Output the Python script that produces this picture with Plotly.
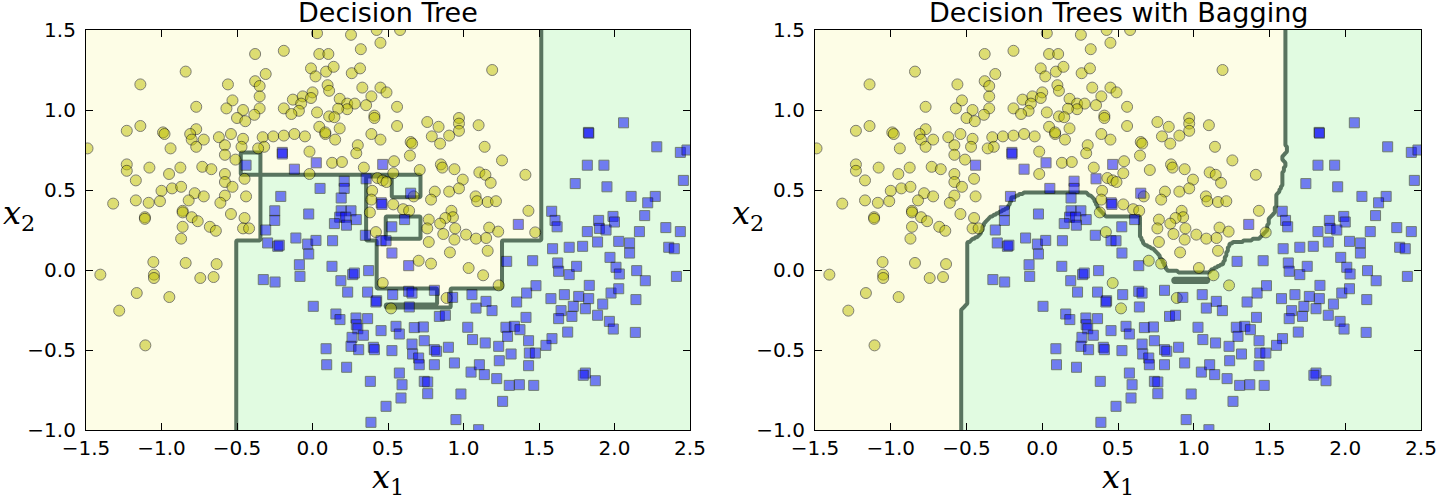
import numpy as np
import plotly.graph_objects as go

# ---------------- data: class 0 (yellow circles) ----------------
yellow_x = [-0.38,-0.19,-0.84,-1.14,-0.56,-0.31,-0.38,-0.35,-0.35,-0.53,-0.77,-0.57,-0.46,-0.35,-0.385,-0.5,-0.445,-0.19,
            -1.23,-1.14,-0.99,-0.98,-0.77,-0.81,-0.80,-0.77,-0.72,-0.62,-0.54,-0.46,-0.33,-0.26,-0.19,-0.32,-0.36,-0.47,-0.58,
            -1.49,-0.94,-0.58,-0.51,-1.23,-1.23,-1.08,-0.95,-0.875,-0.73,-0.67,-0.58,-1.17,-0.45,-0.58,-0.53,-1.0,-0.93,-0.87,
            -0.78,-0.72,-0.82,-0.58,-0.61,-0.44,-1.32,-1.17,-1.085,-1.01,-1.11,-1.11,-0.86,-0.86,-0.80,-0.76,-0.68,-0.64,-0.54,
            -0.45,-0.46,-0.42,-0.86,
            -0.87,-1.054,-0.84,-0.635,-1.405,-1.05,-1.05,-0.743,-0.655,-1.164,-0.948,-1.28,-1.107,
            0.03,0.255,0.425,0.58,0.45,0.32,0.045,0.105,-0.01,0.02,0.09,0.14,0.26,0.315,0.10,0.11,0.0,0.33,0.45,0.49,0.39,
            -0.13,-0.065,-0.075,-0.01,0.18,0.23,0.28,0.355,0.23,0.17,-0.09,-0.14,0.03,0.11,0.145,0.41,0.41,0.56,0.56,0.045,
            0.18,0.085,0.085,-0.12,-0.05,0.15,0.39,0.45,0.76,0.835,0.97,0.97,0.97,0.905,0.79,0.845,1.10,1.14,0.65,0.66,0.3,
            0.29,-0.02,0.645,0.54,0.13,0.195,0.34,0.71,0.85,0.86,0.94,1.105,1.145,0.995,0.905,0.97,0.81,0.785,1.08,1.09,1.16,
            -0.02,0.43,0.465,0.49,0.535,0.395,0.39,0.38,0.535,0.6,0.64,0.67,0.92,0.93,0.88,0.77,0.76,0.845,0.945,
            1.19,1.255,1.18,1.41,1.215,1.43,1.17,1.23,1.475,
            0.42,0.77,0.866,0.94,1.017,1.083,1.15,1.16,0.91,0.703,0.785,1.034,1.13,0.465,0.888,0.52,1.233]
yellow_y = [1.35,1.37,1.24,1.16,1.16,1.225,1.18,1.15,1.085,1.06,1.02,1.01,1.0,1.01,0.97,0.95,0.93,1.01,
            0.87,0.90,0.86,0.85,0.88,0.85,0.815,0.77,0.815,0.83,0.85,0.82,0.83,0.835,0.84,0.77,0.76,0.77,0.78,
            0.76,0.76,0.72,0.69,0.66,0.62,0.64,0.60,0.64,0.645,0.63,0.60,0.56,0.57,0.55,0.52,0.495,0.51,0.52,
            0.48,0.46,0.435,0.465,0.42,0.46,0.415,0.435,0.42,0.43,0.33,0.32,0.37,0.36,0.33,0.305,0.27,0.245,0.35,
            0.325,0.26,0.26,0.27,
            0.196,0.05,0.044,0.037,-0.029,-0.029,-0.05,-0.05,-0.044,-0.144,-0.169,-0.254,-0.471,
            1.48,1.47,1.50,1.50,1.42,1.38,1.35,1.35,1.26,1.21,1.24,1.27,1.23,1.26,1.155,1.12,1.11,1.14,1.14,1.11,1.085,
            1.065,1.085,1.04,1.075,1.07,1.04,1.04,1.03,1.005,1.008,0.995,0.975,0.985,0.96,0.955,0.965,0.95,1.02,0.90,0.895,
            0.885,0.85,0.86,0.85,0.835,0.815,0.85,0.815,0.925,0.895,0.95,0.915,0.87,0.84,0.835,0.79,0.905,0.77,0.80,0.79,0.78,
            0.73,0.74,0.715,0.68,0.67,0.675,0.64,0.625,0.66,0.64,0.63,0.61,0.595,0.565,0.49,0.51,0.49,0.44,0.46,0.43,0.425,
            0.60,0.575,0.56,0.55,0.605,0.495,0.44,0.36,0.41,0.38,0.37,0.46,0.37,0.33,0.325,0.315,0.26,0.29,0.26,
            1.25,0.685,0.545,0.595,0.43,0.37,0.265,0.24,0.235,
            0.237,0.175,0.225,0.19,0.221,0.196,0.2,0.12,0.11,0.058,0.04,0.0125,-0.033,-0.081,-0.175,-0.24,-0.096]

# ---------------- data: class 1 (blue squares) ----------------
blue_x = [-0.44,-0.20,-0.2,-0.21,-0.25,-0.25,-0.31,
          0.025,-0.12,0.465,0.21,0.21,0.05,0.355,0.19,0.455,0.46,0.65,-0.025,0.19,0.255,0.18,0.22,0.29,0.145,0.225,0.61,0.525,
          2.06,1.827,1.83,2.28,2.436,2.48,1.82,1.93,1.74,1.95,2.456,2.11,2.27,2.22,2.2,1.584,1.606,1.62,1.895,1.99,2.0,1.9,
          1.944,1.82,2.165,2.34,2.436,1.363,
          -0.297,-0.23,-0.22,-0.326,-0.248,
          -0.11,-0.032,0.023,0.133,-0.025,-0.087,-0.083,0.35,0.454,0.487,0.526,0.637,0.129,0.188,0.266,0.277,0.372,0.233,
          0.365,0.425,0.42,0.531,0.637,0.659,0.807,0.928,0.641,0.84,0.88,1.056,1.149,1.083,1.028,1.06,1.144,0.005,0.155,
          0.182,0.288,0.365,0.29,0.3,0.454,0.553,0.575,0.674,0.734,0.262,0.337,0.255,0.306,0.403,0.41,0.526,0.659,0.663,
          0.74,0.807,0.822,0.9,0.09,0.094,0.226,0.703,0.707,0.807,0.94,1.05,1.105,1.138,0.575,0.383,0.593,0.586,0.74,0.763,
          0.763,0.983,0.487,0.387,0.95,1.1,
          1.59,1.7,1.789,1.888,2.028,2.1,2.1,2.359,2.396,1.97,2.01,2.032,2.147,2.204,2.41,1.286,1.458,1.624,1.63,1.7,1.749,
          1.48,1.418,1.352,1.579,1.668,1.763,1.829,1.833,1.977,2.028,2.142,1.922,1.646,1.727,1.807,1.718,1.63,1.888,1.966,
          1.992,2.138,1.69,1.189,1.414,1.281,1.337,1.374,1.292,1.431,1.586,1.546,1.233,1.315,1.436,1.476,1.237,1.431,1.22,
          1.303,1.37,1.465,1.807,1.793,1.873,1.259]
blue_y = [0.655,0.735,0.725,0.46,0.37,0.31,0.25,
          0.67,0.63,0.66,0.555,0.51,0.51,0.57,0.45,0.42,0.41,0.48,0.35,0.37,0.37,0.33,0.33,0.315,0.29,0.28,0.315,0.27,
          0.92,0.86,0.855,0.77,0.735,0.75,0.655,0.655,0.54,0.52,0.56,0.46,0.46,0.42,0.34,0.367,0.31,0.27,0.31,0.335,0.30,0.26,
          0.25,0.24,0.24,0.265,0.24,0.285,
          0.169,0.148,0.155,-0.06,-0.075,
          0.2,0.162,0.185,0.183,0.1,0.033,-0.04,0.217,0.183,0.183,0.106,0.027,0.023,-0.067,-0.029,-0.019,-0.004,-0.138,
          -0.138,-0.192,-0.2,-0.154,-0.133,-0.144,-0.127,-0.171,-0.231,-0.29,-0.283,-0.154,-0.196,-0.238,-0.358,-0.435,-0.456,-0.227,-0.275,
          -0.31,-0.3,-0.304,-0.342,-0.367,-0.379,-0.352,-0.4,-0.36,-0.356,-0.421,-0.408,-0.477,-0.498,-0.483,-0.498,-0.504,-0.463,-0.525,
          -0.442,-0.498,-0.508,-0.483,-0.492,-0.592,-0.608,-0.55,-0.592,-0.592,-0.581,-0.638,-0.592,-0.654,-0.644,-0.696,-0.717,-0.8,-0.696,-0.7,
          -0.773,-0.775,-0.852,-0.952,-0.935,-0.998,
          0.133,0.142,0.148,0.175,0.179,0.169,0.106,0.142,0.133,0.079,0.017,-0.025,-0.004,-0.067,-0.04,0.054,0.058,0.044,-0.008,-0.029,0.023,
          -0.098,-0.144,-0.2,-0.179,-0.154,-0.165,-0.179,-0.096,-0.144,-0.117,-0.185,-0.213,-0.254,-0.227,-0.242,-0.29,-0.304,-0.283,-0.321,
          -0.369,-0.39,-0.388,-0.254,-0.296,-0.358,-0.352,-0.373,-0.415,-0.442,-0.429,-0.471,-0.477,-0.525,-0.519,-0.519,-0.567,-0.598,-0.679,
          -0.721,-0.717,-0.721,-0.644,-0.658,-0.692,-0.821]

# ---------------- single decision tree: leaf rectangles, painted in order ----------------
tree_x0 = [-1.6, -1.6, -0.345, -0.473, 0.36, 0.425, 0.83, 0.487, 0.53, 0.49]
tree_x1 = [-0.505, 1.515, 0.36, -0.345, 0.53, 1.25, 0.917, 0.83, 0.72, 0.72]
tree_y0 = [-1.1, 0.18, 0.18, 0.594, 0.582, -0.113, -0.233, -0.233, 0.45, 0.19]
tree_y1 = [1.6, 1.6, 0.594, 0.733, 0.594, 0.19, -0.113, -0.213, 0.594, 0.333]
tree_cls = [0, 0, 1, 1, 1, 0, 0, 0, 1, 1]

# ---------------- bagging ensemble: boundary of the class-0 region ----------------
bag_x = [-0.530, -0.530, -0.499, -0.499, -0.411, -0.378, -0.334, -0.226, -0.202, -0.114, 0.282, 0.335, 0.368,
         0.425, 0.645, 0.645, 0.667, 0.744, 0.799, 0.821, 0.909, 1.096, 1.195, 1.239, 1.437, 1.481, 1.503,
         1.536, 1.548, 1.580, 1.591, 1.613, 1.580, 1.613, 1.602, 1.600, -1.6, -1.6]
bag_y = [-1.1, -0.25, -0.219, 0.169, 0.219, 0.302, 0.3375, 0.3875, 0.45, 0.486, 0.486, 0.45, 0.3875,
         0.333, 0.333, 0.2125, 0.167, 0.125, 0.052, 0.0, -0.0125, -0.0125, 0.042, 0.167, 0.198, 0.25, 0.333,
         0.354, 0.469, 0.52, 0.625, 0.667, 0.698, 0.74, 0.875, 1.6, 1.6, -1.1]
sliver_x = [0.86, 1.10, 1.10, 0.86]
sliver_y = [-0.078, -0.078, -0.052, -0.052]

x_ticks = [-1.5, -1.0, -0.5, 0.0, 0.5, 1.0, 1.5, 2.0, 2.5]
y_ticks = [-1.0, -0.5, 0.0, 0.5, 1.0, 1.5]
titles = ["Decision Tree", "Decision Trees with Bagging"]

# ---------------- grids ----------------
gx = np.linspace(-1.5, 2.5, 401)
gy = np.linspace(-1.0, 1.5, 251)
GX, GY = np.meshgrid(gx, gy)

Z_tree = np.ones_like(GX)
for x0, x1, y0, y1, c in zip(tree_x0, tree_x1, tree_y0, tree_y1, tree_cls):
    Z_tree[(GX >= x0) & (GX <= x1) & (GY >= y0) & (GY <= y1)] = c


def inside(px, py, vx, vy):
    res = np.zeros(px.shape, dtype=bool)
    n = len(vx)
    j = n - 1
    for i in range(n):
        xi, yi, xj, yj = vx[i], vy[i], vx[j], vy[j]
        if yi != yj:
            cond = ((yi > py) != (yj > py)) & (px < (xj - xi) * (py - yi) / (yj - yi) + xi)
            res ^= cond
        j = i
    return res


Z_bag = np.ones_like(GX)
Z_bag[inside(GX, GY, bag_x, bag_y)] = 0
Z_bag[inside(GX, GY, sliver_x, sliver_y)] = 0

YEL = "#fdfde6"
GRN = "#e1fbe1"
LINE = "rgba(76,104,84,0.92)"

fig = go.Figure()
for k, Z in enumerate([Z_tree, Z_bag]):
    xa = "x" if k == 0 else "x2"
    ya = "y" if k == 0 else "y2"
    fig.add_trace(go.Contour(x=gx, y=gy, z=Z, zmin=0, zmax=1, autocontour=False,
                             contours=dict(start=0.5, end=0.5, size=1, coloring="fill"),
                             colorscale=[[0, YEL], [1, GRN]], showscale=False,
                             line=dict(color=LINE, width=4, smoothing=0), hoverinfo="skip",
                             xaxis=xa, yaxis=ya))
    fig.add_trace(go.Scatter(x=yellow_x, y=yellow_y, mode="markers", xaxis=xa, yaxis=ya,
                             marker=dict(symbol="circle", size=11, color="rgb(191,191,0)", opacity=0.5,
                                         line=dict(color="black", width=1)), showlegend=False))
    fig.add_trace(go.Scatter(x=blue_x, y=blue_y, mode="markers", xaxis=xa, yaxis=ya,
                             marker=dict(symbol="square", size=10, color="rgb(0,0,255)", opacity=0.5,
                                         line=dict(color="black", width=1)), showlegend=False))

W, H = 1440, 498
dom_left = [86 / W, 690 / W]
dom_right = [815 / W, 1421 / W]
dom_y = [1 - 430 / H, 1 - 30 / H]

axis_common = dict(ticks="inside", ticklen=7, tickwidth=1, tickcolor="black", showline=True,
                   linecolor="black", linewidth=1.2, mirror="allticks", showgrid=False, zeroline=False,
                   automargin=False, tickformat=".1f",
                   tickfont=dict(family="DejaVu Sans", size=20, color="black"))

fig.update_layout(
    width=W, height=H, margin=dict(l=0, r=0, t=0, b=0, autoexpand=False),
    paper_bgcolor="white", plot_bgcolor="white", showlegend=False,
    xaxis=dict(domain=dom_left, range=[-1.5, 2.5], tickvals=x_ticks, anchor="y", **axis_common),
    yaxis=dict(domain=dom_y, range=[-1.0, 1.5], tickvals=y_ticks, anchor="x", ticklabelstandoff=5, **axis_common),
    xaxis2=dict(domain=dom_right, range=[-1.5, 2.5], tickvals=x_ticks, anchor="y2", **axis_common),
    yaxis2=dict(domain=dom_y, range=[-1.0, 1.5], tickvals=y_ticks, anchor="x2", ticklabelstandoff=5, **axis_common),
)

ann = []
for dom, t in zip([dom_left, dom_right], titles):
    cx = (dom[0] + dom[1]) / 2
    ann.append(dict(text=t, x=cx, y=1 - 30 / H, xref="paper", yref="paper", showarrow=False,
                    xanchor="center", yanchor="bottom", font=dict(family="DejaVu Sans", size=27, color="black")))
    ann.append(dict(text="<i>x</i><sub>1</sub>", x=cx, y=1 - 479 / H, xref="paper", yref="paper", showarrow=False,
                    xanchor="center", yanchor="middle", font=dict(family="DejaVu Serif", size=32, color="black")))
for px in [19, 748]:
    ann.append(dict(text="<i>x</i><sub>2</sub>", x=px / W, y=1 - 215 / H, xref="paper", yref="paper", showarrow=False,
                    xanchor="center", yanchor="middle", font=dict(family="DejaVu Serif", size=32, color="black")))
fig.update_layout(annotations=ann)

fig.write_html("out.html", config={"displayModeBar": False},
               post_script="document.body.style.margin='0px';document.body.style.overflow='hidden';")
